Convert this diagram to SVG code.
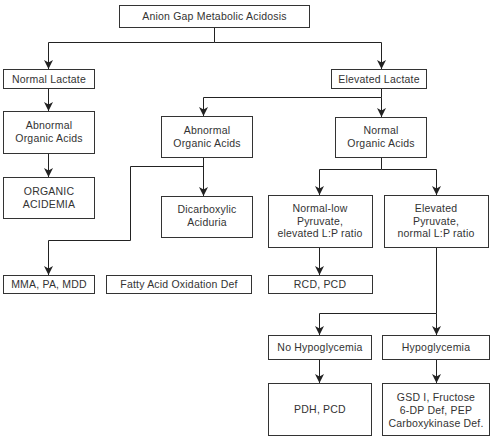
<svg xmlns="http://www.w3.org/2000/svg" width="500" height="442" viewBox="0 0 500 442">
<defs>
<marker id="ah" markerWidth="9" markerHeight="10" refX="4.5" refY="10" orient="0" markerUnits="userSpaceOnUse">
<path d="M0,1 L4.5,3.5 L9,1 L4.5,10 Z" fill="#222"/>
</marker>
<style>
.b{fill:#fff;stroke:#333;stroke-width:1}
.t{font-family:"Liberation Sans",Arial,sans-serif;font-size:10.5px;fill:#333;text-anchor:middle;letter-spacing:0.2px}
.c{fill:none;stroke:#222;stroke-width:1}
.a{marker-end:url(#ah)}
</style>
</defs>
<rect width="500" height="442" fill="#fff"/>
<g id="connectors">
<path class="c" d="M214.5,27 V42.5 H48.5 M214.5,42.5 H381.5"/>
<path class="c a" d="M48.5,42.5 V69"/>
<path class="c a" d="M381.5,42.5 V69"/>
<path class="c a" d="M48.5,88 V111"/>
<path class="c a" d="M48.5,153 V177"/>
<path class="c" d="M381.5,88 V97.5 H203.5"/>
<path class="c a" d="M203.5,97.5 V116"/>
<path class="c a" d="M381.5,97.5 V117"/>
<path class="c a" d="M203.5,157 V196"/>
<path class="c" d="M203.5,166.5 H130.5 V240.5 H48.5"/>
<path class="c a" d="M48.5,240.5 V275"/>
<path class="c" d="M381.5,157 V169.5 H319.5 M381.5,169.5 H436.5"/>
<path class="c a" d="M319.5,169.5 V195"/>
<path class="c a" d="M436.5,169.5 V195"/>
<path class="c a" d="M319.5,247 V275"/>
<path class="c" d="M436.5,247 V313.5 H319.5"/>
<path class="c a" d="M319.5,313.5 V335"/>
<path class="c a" d="M436.5,313.5 V335"/>
<path class="c a" d="M319.5,359 V383"/>
<path class="c a" d="M436.5,359 V383"/>
</g>
<g id="n-root"><rect class="b" x="119.5" y="5.5" width="190" height="22"/><text class="t" x="214.5" y="20">Anion Gap Metabolic Acidosis</text></g>
<g id="n-normal-lactate"><rect class="b" x="3.5" y="69.5" width="91" height="19"/><text class="t" x="49" y="82.5">Normal Lactate</text></g>
<g id="n-elevated-lactate"><rect class="b" x="331.5" y="69.5" width="95" height="19"/><text class="t" x="379" y="82.5">Elevated Lactate</text></g>
<g id="n-abn-oa-left"><rect class="b" x="3.5" y="111.5" width="91" height="42"/><text class="t" x="49" y="129">Abnormal</text><text class="t" x="49" y="142">Organic Acids</text></g>
<g id="n-organic-acidemia"><rect class="b" x="3.5" y="177.5" width="91" height="41"/><text class="t" x="49" y="195">ORGANIC</text><text class="t" x="49" y="208">ACIDEMIA</text></g>
<g id="n-abn-oa-mid"><rect class="b" x="161.5" y="116.5" width="91" height="41"/><text class="t" x="207" y="134">Abnormal</text><text class="t" x="207" y="147">Organic Acids</text></g>
<g id="n-normal-oa"><rect class="b" x="335.5" y="117.5" width="91" height="40"/><text class="t" x="381" y="134">Normal</text><text class="t" x="381" y="147">Organic Acids</text></g>
<g id="n-dicarboxylic"><rect class="b" x="161.5" y="196.5" width="91" height="41"/><text class="t" x="207" y="213">Dicarboxylic</text><text class="t" x="207" y="226">Aciduria</text></g>
<g id="n-mma"><rect class="b" x="3.5" y="275.5" width="91" height="18"/><text class="t" x="49" y="288">MMA, PA, MDD</text></g>
<g id="n-fatty"><rect class="b" x="106.5" y="275.5" width="145" height="18"/><text class="t" x="179" y="288">Fatty Acid Oxidation Def</text></g>
<g id="n-normal-low"><rect class="b" x="268.5" y="195.5" width="104" height="52"/><text class="t" x="320" y="212">Normal-low</text><text class="t" x="320" y="224.5">Pyruvate,</text><text class="t" x="320" y="237">elevated  L:P ratio</text></g>
<g id="n-elevated-pyruvate"><rect class="b" x="384.5" y="195.5" width="104" height="52"/><text class="t" x="436" y="212">Elevated</text><text class="t" x="436" y="224.5">Pyruvate,</text><text class="t" x="436" y="237">normal L:P ratio</text></g>
<g id="n-rcd"><rect class="b" x="268.5" y="275.5" width="104" height="18"/><text class="t" x="320" y="288">RCD, PCD</text></g>
<g id="n-no-hypo"><rect class="b" x="268.5" y="335.5" width="103" height="24"/><text class="t" x="320" y="351">No Hypoglycemia</text></g>
<g id="n-hypo"><rect class="b" x="382.5" y="335.5" width="107" height="24"/><text class="t" x="436" y="351">Hypoglycemia</text></g>
<g id="n-pdh"><rect class="b" x="268.5" y="383.5" width="103" height="52"/><text class="t" x="320" y="413">PDH, PCD</text></g>
<g id="n-gsd"><rect class="b" x="382.5" y="383.5" width="107" height="52"/><text class="t" x="436" y="401">GSD I, Fructose</text><text class="t" x="436" y="414">6-DP Def, PEP</text><text class="t" x="436" y="427">Carboxykinase Def.</text></g>
</svg>
